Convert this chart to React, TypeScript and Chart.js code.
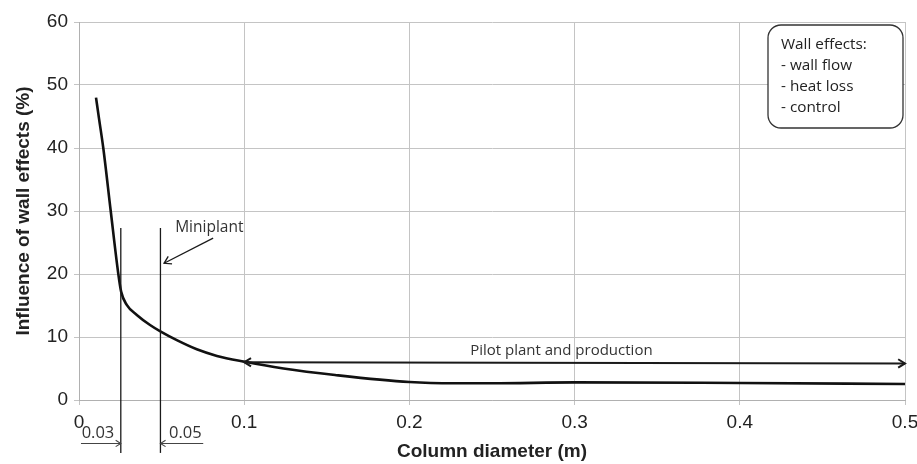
import React, { useEffect, useRef } from 'react';
import { Chart, registerables } from 'chart.js';

Chart.register(...registerables);

// Main curve: column diameter (m) vs influence of wall effects (%)
const diameters = [0.0103, 0.0121, 0.0147, 0.0192, 0.0238, 0.0255, 0.0289, 0.035, 0.043, 0.0495, 0.0592, 0.0713, 0.0835, 0.0996, 0.1238, 0.155, 0.2, 0.227, 0.25, 0.3, 0.4, 0.5];
const influence = [48.0, 44.7, 40.0, 30.0, 20.0, 17.2, 15.1, 13.5, 11.9, 10.85, 9.5, 8.05, 7.0, 6.1, 5.0, 3.97, 2.85, 2.65, 2.65, 2.8, 2.7, 2.55];

// Axis ticks
const xTickLabels = ['0', '0.1', '0.2', '0.3', '0.4', '0.5'];
const yTickLabels = ['0', '10', '20', '30', '40', '50', '60'];

// Annotations (data coordinates)
const markerDiameters = [0.0253, 0.0493];
const markerLabels = ['0.03', '0.05'];
const markerRange = [27.3, -8.4];
const dimArrowY = -6.9;
const dimArrowFrom = [0.0012, 0.0752];
const dimLabelY = -5.3;
const dimLabelX = [0.0016, 0.0743];
const miniplantLabel = 'Miniplant';
const miniplantText = [0.0582, 27.3];
const miniplantArrow = [0.0812, 25.7, 0.0515, 21.7];
const pilotLabel = 'Pilot plant and production';
const pilotText = [0.292, 7.8];
const pilotArrow = [0.1, 6.0, 0.5, 5.8];
const legendLines = ['Wall effects:', '- wall flow', '- heat loss', '- control'];

const INK = '#1a1a1a';
const NOTE_FONT = '"Open Sans", sans-serif';
const AXIS_FONT = '"Liberation Sans", Arial, sans-serif';

function arrowHead(ctx: CanvasRenderingContext2D, x1: number, y1: number, x2: number, y2: number, size = 7) {
  const ang = Math.atan2(y2 - y1, x2 - x1);
  ctx.beginPath();
  ctx.moveTo(x2 - size * Math.cos(ang - 0.55), y2 - size * Math.sin(ang - 0.55));
  ctx.lineTo(x2, y2);
  ctx.lineTo(x2 - size * Math.cos(ang + 0.55), y2 - size * Math.sin(ang + 0.55));
  ctx.stroke();
}

const annotationPlugin = {
  id: 'wallAnnotations',
  afterDatasetsDraw(chart: any) {
    const { ctx, scales, chartArea } = chart;
    const X = (v: number) => scales.x.getPixelForValue(v);
    const Y = (v: number) => scales.y.getPixelForValue(v);
    ctx.save();
    ctx.strokeStyle = INK;
    ctx.fillStyle = INK;

    // marker vertical lines and dimension arrows
    markerDiameters.forEach((d, i) => {
      ctx.lineWidth = 1.3;
      ctx.strokeStyle = INK;
      ctx.beginPath();
      ctx.moveTo(X(d), Y(markerRange[0]));
      ctx.lineTo(X(d), Y(markerRange[1]));
      ctx.stroke();
      ctx.lineWidth = 1.1;
      ctx.strokeStyle = '#444';
      ctx.beginPath();
      ctx.moveTo(X(dimArrowFrom[i]), Y(dimArrowY));
      ctx.lineTo(X(d), Y(dimArrowY));
      ctx.stroke();
      arrowHead(ctx, X(dimArrowFrom[i]), Y(dimArrowY), X(d), Y(dimArrowY), 6);
      ctx.font = `16.5px ${NOTE_FONT}`;
      ctx.textBaseline = 'middle';
      ctx.textAlign = i === 0 ? 'left' : 'right';
      ctx.fillStyle = '#333';
      ctx.fillText(markerLabels[i], X(dimLabelX[i]), Y(dimLabelY));
    });

    // Miniplant
    ctx.strokeStyle = INK;
    ctx.font = `15.5px ${NOTE_FONT}`;
    ctx.textAlign = 'left';
    ctx.textBaseline = 'middle';
    ctx.fillStyle = '#333';
    ctx.fillText(miniplantLabel, X(miniplantText[0]), Y(miniplantText[1]));
    ctx.lineWidth = 1.3;
    ctx.beginPath();
    ctx.moveTo(X(miniplantArrow[0]), Y(miniplantArrow[1]));
    ctx.lineTo(X(miniplantArrow[2]), Y(miniplantArrow[3]));
    ctx.stroke();
    arrowHead(ctx, X(miniplantArrow[0]), Y(miniplantArrow[1]), X(miniplantArrow[2]), Y(miniplantArrow[3]), 8);

    // Pilot plant arrow
    ctx.font = `15px ${NOTE_FONT}`;
    ctx.textAlign = 'center';
    ctx.fillText(pilotLabel, X(pilotText[0]), Y(pilotText[1]));
    ctx.lineWidth = 2;
    const px1 = X(pilotArrow[0]), py1 = Y(pilotArrow[1]), px2 = X(pilotArrow[2]), py2 = Y(pilotArrow[3]);
    ctx.beginPath();
    ctx.moveTo(px1, py1);
    ctx.lineTo(px2, py2);
    ctx.stroke();
    arrowHead(ctx, px2, py2, px1, py1, 8);
    arrowHead(ctx, px1, py1, px2, py2, 8);

    // note box
    const bw = 135, bh = 103;
    const bx = chartArea.right - 2 - bw, by = chartArea.top + 3;
    ctx.beginPath();
    ctx.roundRect(bx, by, bw, bh, 13);
    ctx.fillStyle = '#ffffff';
    ctx.fill();
    ctx.lineWidth = 1.3;
    ctx.strokeStyle = '#333';
    ctx.stroke();
    ctx.fillStyle = '#222';
    ctx.font = `15.3px ${NOTE_FONT}`;
    ctx.textAlign = 'left';
    ctx.textBaseline = 'middle';
    legendLines.forEach((t, i) => {
      ctx.fillText(t, bx + 13, by + 20 + i * 21);
    });
    ctx.restore();
  },
};

export default function App() {
  const ref = useRef<HTMLCanvasElement>(null);
  useEffect(() => {
    document.body.style.margin = '0';
    const canvas = ref.current!;
    const chart = new Chart(canvas, {
      type: 'line',
      data: {
        datasets: [
          {
            data: diameters.map((d, i) => ({ x: d, y: influence[i] })),
            borderColor: '#111',
            borderWidth: 2.6,
            pointRadius: 0,
            cubicInterpolationMode: 'monotone',
            fill: false,
          },
        ],
      },
      options: {
        animation: false,
        responsive: false,
        devicePixelRatio: 1,
        layout: { padding: { top: 22, right: 12, left: 0, bottom: 0 } },
        plugins: { legend: { display: false }, tooltip: { enabled: false } },
        scales: {
          x: {
            type: 'linear',
            min: 0,
            max: 0.5,
            afterFit: (s: any) => { s.height = 64; s.paddingRight = 0; s.paddingLeft = 0; },
            ticks: {
              stepSize: 0.1,
              padding: 6,
              color: '#222',
              font: { family: AXIS_FONT, size: 19 },
              callback: (_v: any, i: number) => xTickLabels[i],
            },
            grid: { color: '#c4c4c4', lineWidth: 1, tickLength: 5 },
            border: { color: '#b0b0b0' },
            title: {
              display: true,
              text: 'Column diameter (m)',
              color: '#222',
              font: { family: AXIS_FONT, size: 19, weight: 'bold' },
              padding: { top: 0, bottom: 1 },
            },
          },
          y: {
            min: 0,
            max: 60,
            afterFit: (s: any) => { s.width = 79; s.paddingTop = 0; s.paddingBottom = 0; },
            ticks: {
              stepSize: 10,
              padding: 6,
              color: '#222',
              font: { family: AXIS_FONT, size: 19 },
              callback: (_v: any, i: number) => yTickLabels[i],
            },
            grid: { color: '#c4c4c4', lineWidth: 1, tickLength: 5 },
            border: { color: '#b0b0b0' },
            title: {
              display: true,
              text: 'Influence of wall effects (%)',
              color: '#222',
              font: { family: AXIS_FONT, size: 19, weight: 'bold' },
              padding: { top: 12, bottom: 0 },
            },
          },
        },
      },
      plugins: [annotationPlugin],
    } as any);
    return () => chart.destroy();
  }, []);
  return (
    <div style={{ width: 917, height: 464 }}>
      <canvas ref={ref} width={917} height={464} />
    </div>
  );
}
